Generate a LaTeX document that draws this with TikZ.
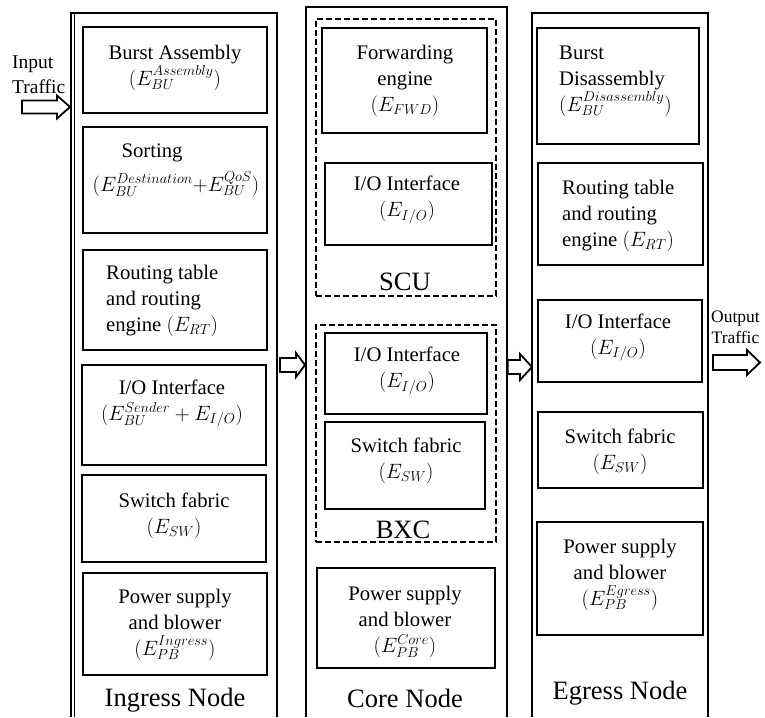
\documentclass[tikz,border=0pt]{standalone}
\usepackage{fontspec}
\setmainfont{Liberation Serif}
\usetikzlibrary{fit,calc}
\newcommand{\blockarr}[5]{%
  \draw[arrowbox] ($(#1)+(0,-#3)$) -- ($(#2)+(-#5,-#3)$) -- ($(#2)+(-#5,-#4)$) -- (#2)
    -- ($(#2)+(-#5,#4)$) -- ($(#2)+(-#5,#3)$) -- ($(#1)+(0,#3)$) -- cycle;}
\begin{document}
\begin{tikzpicture}[x=1pt,y=-1pt,
  outer/.style={line width=1.6pt},
  box/.style={draw, line width=1.8pt, inner sep=0pt},
  group/.style={draw, line width=1.5pt, dash pattern=on 6pt off 3pt, inner sep=0pt},
  txt/.style={inner sep=0pt, align=center, font=\rmfamily\fontsize{20.7}{26}\selectfont},
  ltxt/.style={txt, align=left, anchor=west},
  big/.style={inner sep=0pt, font=\rmfamily\fontsize{26.5}{30}\selectfont},
  arrowbox/.style={draw, line width=1.8pt, fill=white, line join=miter}
]
\useasboundingbox (0,0) rectangle (765,717);

% ---------- outer columns ----------
\draw[outer] (71,717) -- (71,13) -- (277,13) -- (277,717);
\draw[line width=1.1pt] (74.5,14) -- (74.5,717);
\draw[outer] (306,717) -- (306,7) -- (507,7) -- (507,717);
\draw[outer] (532,717) -- (532,13) -- (708,13) -- (708,717);

% ---------- Ingress ----------
\node[box, fit={(83,27) (267,113)}] (iba) {};
\node[txt] (ibat) at (175,67.5) {Burst Assembly\\$(E_{BU}^{Assembly})$};
\node[box, fit={(83,127) (267,233)}] (iso) {};
\node[txt] (isot) at (152,153) {Sorting};
\node[txt] (isom) at (176,184) {$(E_{BU}^{Destination}{+}E_{BU}^{QoS})$};
\node[box, fit={(83,250) (267,350)}] (irt) {};
\node[ltxt] (irtt) at (106,301) {Routing table\\and routing\\engine $(E_{RT})$};
\node[box, fit={(82,365) (266,465)}] (iio) {};
\node[txt] (iiot) at (172,403.5) {I/O Interface\\$(E_{BU}^{Sender}+E_{I/O})$};
\node[box, fit={(82,475) (266,562)}] (isw) {};
\node[txt] (iswt) at (174,516) {Switch fabric\\$(E_{SW})$};
\node[box, fit={(83,573) (267,675)}] (ipb) {};
\node[txt] (ipbt) at (175,625) {Power supply\\and blower\\$(E_{PB}^{Ingress})$};
\node[big] (ilab) at (175,700) {Ingress Node};

% ---------- Core ----------
\node[group, fit={(316,19) (496,296)}] (scu) {};
\node[box, fit={(322,28) (487,133)}] (cfw) {};
\node[txt] (cfwt) at (405,81) {Forwarding\\engine\\$(E_{FWD})$};
\node[box, fit={(325,163) (492,245)}] (cio1) {};
\node[txt] (cio1t) at (407,200) {I/O Interface\\$(E_{I/O})$};
\node[big] (scul) at (405,282) {SCU};
\node[group, fit={(316,325) (496,542)}] (bxc) {};
\node[box, fit={(325,333) (487,414)}] (cio2) {};
\node[txt] (cio2t) at (407,371) {I/O Interface\\$(E_{I/O})$};
\node[box, fit={(325,422) (485,509)}] (csw) {};
\node[txt] (cswt) at (406,461) {Switch fabric\\$(E_{SW})$};
\node[big] (bxcl) at (403,530) {BXC};
\node[box, fit={(317,568) (495,668)}] (cpb) {};
\node[txt] (cpbt) at (405,621.5) {Power supply\\and blower\\$(E_{PB}^{Core})$};
\node[big] (clab) at (405,698) {Core Node};

% ---------- Egress ----------
\node[box, fit={(537,28) (699,144)}] (ebd) {};
\node[ltxt] (ebdt) at (559,81) {Burst\\Disassembly\\$(E_{BU}^{Disassembly})$};
\node[box, fit={(538,163) (703,265)}] (ert) {};
\node[ltxt] (ertt) at (562,216) {Routing table\\and routing\\engine $(E_{RT})$};
\node[box, fit={(538,300) (702,382)}] (eio) {};
\node[txt] (eiot) at (618,337.5) {I/O Interface\\$(E_{I/O})$};
\node[box, fit={(538,412) (703,488)}] (esw) {};
\node[txt] (eswt) at (620,451.5) {Switch fabric\\$(E_{SW})$};
\node[box, fit={(537,522) (703,635)}] (epb) {};
\node[txt] (epbt) at (620,575) {Power supply\\and blower\\$(E_{PB}^{Egress})$};
\node[big] (elab) at (620,693) {Egress Node};

% ---------- traffic labels ----------
\node[inner sep=0pt, align=left, anchor=west, font=\rmfamily\fontsize{19.5}{25}\selectfont] (inl) at (12,74.5) {Input\\Traffic};
\node[inner sep=0pt, align=center, anchor=west, font=\rmfamily\fontsize{17.5}{21}\selectfont] (outl) at (711,327.5) {Output\\Traffic};

% ---------- block arrows ----------
\coordinate (a1s) at (22,107);   \coordinate (a1e) at (70,107);
\coordinate (a2s) at (280,365);  \coordinate (a2e) at (305,365);
\coordinate (a3s) at (507.8,367);  \coordinate (a3e) at (532,367);
\coordinate (a4s) at (713,362.5); \coordinate (a4e) at (760,362.5);
\blockarr{a1s}{a1e}{6.5}{11.5}{13}
\blockarr{a2s}{a2e}{7}{12}{9}
\blockarr{a3s}{a3e}{7}{13}{12}
\blockarr{a4s}{a4e}{7.5}{12.5}{13}
\end{tikzpicture}
\end{document}
